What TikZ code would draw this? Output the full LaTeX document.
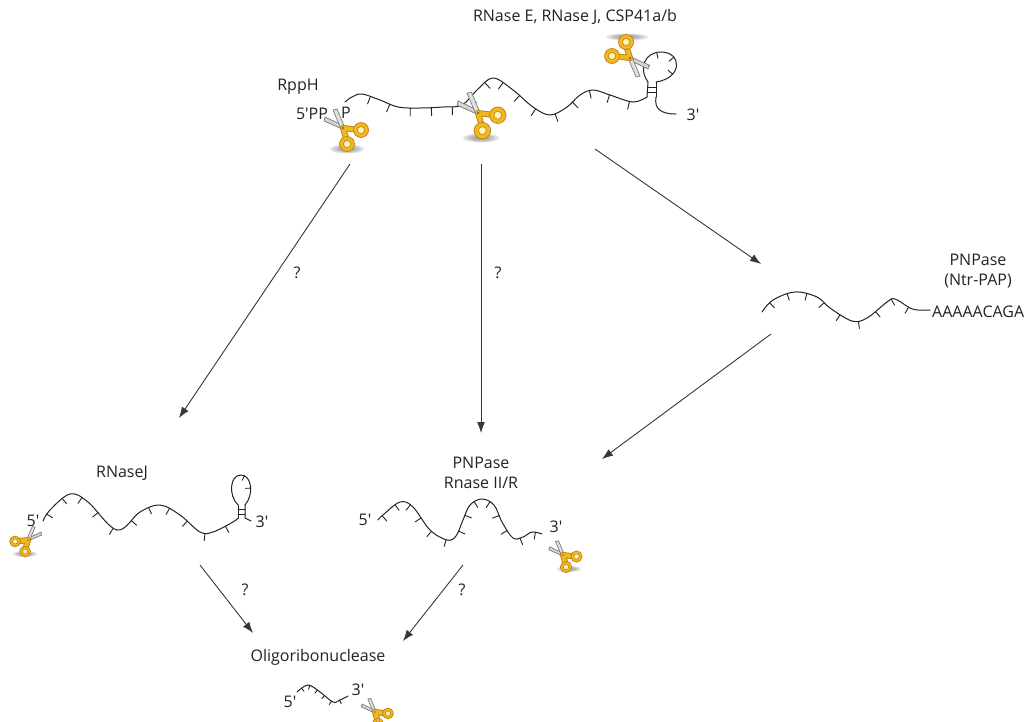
\documentclass[tikz,border=0pt]{standalone}
\usepackage{fontspec}
\setmainfont{Open Sans}[Ligatures=TeXOff]
\usetikzlibrary{arrows.meta,decorations.markings}

\definecolor{ink}{RGB}{35,35,35}
\definecolor{arrowc}{RGB}{55,55,55}
\definecolor{goldf}{RGB}{242,184,32}
\definecolor{goldd}{RGB}{190,128,16}
\definecolor{goldl}{RGB}{255,242,190}
\definecolor{bladef}{RGB}{212,212,212}
\definecolor{bladed}{RGB}{110,110,110}
\definecolor{shadowc}{RGB}{110,110,110}

\tikzset{
  x=1pt, y=-1pt,
  lbl/.style={text=ink, font=\fontsize{16}{20}\selectfont, inner sep=0pt, align=center},
  flow/.style={draw=arrowc, line width=0.9pt, -{Latex[length=11pt,width=8pt]}},
  rna/.style={draw=ink, line width=1pt, line cap=round, line join=round},
  rnaticks/.style 2 args={postaction={decorate}, decoration={markings,
      mark=between positions #1 with {\draw[ink, line width=0.9pt] (0pt,0pt) -- (0pt,-#2);}}},
  scissors/.pic={
    % blades
    \filldraw[fill=bladef, draw=bladed, line width=0.6pt]
      (1.5,2) -- (-19,-7) -- (-18,-11) -- (2,-1.5) -- cycle;
    \filldraw[fill=bladef!75!white, draw=bladed, line width=0.6pt]
      (-2,1) -- (-10,-18) -- (-6,-19) -- (2,0) -- cycle;
    % handle arms
    \draw[goldd, line width=6pt, line cap=round] (0,0) -- (12,1.5) (0,0) -- (3,10);
    \draw[goldf, line width=4.2pt, line cap=round] (0,0) -- (12,1.5) (0,0) -- (3,10);
    % finger rings
    \foreach \ux/\uy in {18/2, 4/16} {
      \filldraw[fill=goldf, draw=goldd, line width=0.7pt] (\ux,\uy) circle (7.5pt);
      \filldraw[fill=goldl, draw=goldd, line width=0.6pt] (\ux,\uy) circle (3.6pt);
    }
    \fill[bladed] (0,0) circle (1.3pt);
  }
}

\begin{document}
\begin{tikzpicture}
\useasboundingbox (0,0) rectangle (1027,721);
\fill[white] (0,0) rectangle (1027,721);

% soft shadows under the scissors
\foreach \cx/\cy/\rx/\ry in {347/149/17/4.5, 481/138/18/4.5, 627/37/21/3.5, 25/554/12/3, 569/569/12/3}
  \foreach \f in {1.0,0.8,0.6,0.4}
    \fill[shadowc, opacity=0.2] (\cx,\cy) ellipse ({\f*\rx pt} and {\f*\ry pt});

% ---------- full-length transcript ----------
\node[lbl] (cutters) at (575,17) {RNase E, RNase J, CSP41a/b};
\node[lbl] (rpph) at (298,87) {RppH};
\node[lbl] (threetop) at (693,115) {3'};

\draw[rna, rnaticks={28pt and -8pt step 21pt}{8pt}] plot[smooth, tension=0.6] coordinates {
  (345,102) (352,97) (362,94) (380,100) (398,107) (420,108) (443,107) (462,105)
  (477,90) (493,78) (513,90) (533,107) (550,115) (567,107) (580,95) (593,90)
  (610,95) (633,102) (647,97)};
% terminal hairpin
\draw[rna] (647,97) -- (648,82);
\draw[rna] (656,82) -- (656,97);
\draw[rna] (648,87) -- (656,87) (648,92.5) -- (656,92.5);
\draw[rna, rnaticks={0.2 and 0.85 step 0.2}{6pt}]
  (648,82) .. controls (638,68) and (645,52) .. (661,52) .. controls (682,52) and (683,78) .. (656,82);
\draw[rna] (656,97) .. controls (654,109) and (661,114) .. (676,114);

\pic at (343,128) {scissors};
\pic[scale=1.1] at (478,113) {scissors};
\pic[rotate=180] at (630,58) {scissors};

\node[lbl] (fivepp) at (312,114) {5'PP};
\node[lbl] (pgroup) at (346,113) {P};

% ---------- polyadenylated fragment ----------
\node[lbl] (pnpap) at (978,271) {PNPase\\(Ntr-PAP)};
\node[lbl, anchor=west] (polya) at (932,312) {AAAAACAGA};
\draw[rna, rnaticks={12pt and -20pt step 20pt}{7pt}] plot[smooth, tension=0.6] coordinates {
  (762,312) (773,300) (795,292) (817,297) (830,308) (852,321) (867,318)
  (887,302) (895,299) (910,308) (918,310)} -- (930,310);

% ---------- RNase J product ----------
\node[lbl] (rnasej) at (122,473) {RNaseJ};
\node[lbl] (fivej) at (33,521) {5'};
\node[lbl] (threej) at (262,522) {3'};
\draw[rna, rnaticks={8pt and -6pt step 22pt}{7pt}] plot[smooth, tension=0.6] coordinates {
  (43,521) (50,510) (70,494) (88,502) (117,530) (140,512) (160,505) (180,515)
  (200,532) (213,532) (233,522) (238,518)};
\draw[rna] (238,518) -- (238,505);
\draw[rna] (245,505) -- (245,518) -- (251,521);
\draw[rna] (238,509) -- (245,509) (238,514) -- (245,514);
\draw[rna, rnaticks={0.55 and 0.8 step 0.2}{5pt}]
  (238,505) .. controls (228,495) and (230,475) .. (241,475) .. controls (252,475) and (254,495) .. (245,505);
\pic[xscale=-0.72, yscale=0.72] at (28,540) {scissors};

% ---------- exonuclease product ----------
\node[lbl] (pnpexo) at (481,473) {PNPase\\Rnase II/R};
\node[lbl] (fivep) at (365,520) {5'};
\node[lbl] (threep) at (556,527) {3'};
\draw[rna, rnaticks={6pt and -6pt step 17pt}{7pt}] plot[smooth, tension=0.6] coordinates {
  (378,520) (383,515) (400,502) (413,507) (430,530) (447,540) (456,536)
  (463,520) (470,505) (482,499) (494,505) (502,522) (513,538) (523,537)
  (532,532) (542,534)};
\pic[scale=0.75] at (563,555) {scissors};

% ---------- oligoribonuclease ----------
\node[lbl] (oligo) at (318,657) {Oligoribonuclease};
\node[lbl] (fiveo) at (290,702) {5'};
\node[lbl] (threeo) at (358,690) {3'};
\draw[rna, rnaticks={6pt and -4pt step 9pt}{4pt}] plot[smooth, tension=0.6] coordinates {
  (297,692) (308,685) (320,692) (333,702) (340,700) (348,696)};
\pic[scale=0.72] at (375,712) {scissors};

% ---------- pathway arrows ----------
\coordinate (a1s) at (350,164);  \coordinate (a1e) at (179,418);
\coordinate (a2s) at (481,164);  \coordinate (a2e) at (481,433);
\coordinate (a3s) at (595,149);  \coordinate (a3e) at (761,264);
\coordinate (a4s) at (771,334);  \coordinate (a4e) at (602,459);
\coordinate (a5s) at (200,565);  \coordinate (a5e) at (253,633);
\coordinate (a6s) at (463,565);  \coordinate (a6e) at (403,641);
\draw[flow] (a1s) -- (a1e);
\draw[flow] (a2s) -- (a2e);
\draw[flow] (a3s) -- (a3e);
\draw[flow] (a4s) -- (a4e);
\draw[flow] (a5s) -- (a5e);
\draw[flow] (a6s) -- (a6e);

\node[lbl] (q1) at (297,273) {?};
\node[lbl] (q2) at (498,273) {?};
\node[lbl] (q3) at (245,590) {?};
\node[lbl] (q4) at (462,590) {?};
\end{tikzpicture}
\end{document}
